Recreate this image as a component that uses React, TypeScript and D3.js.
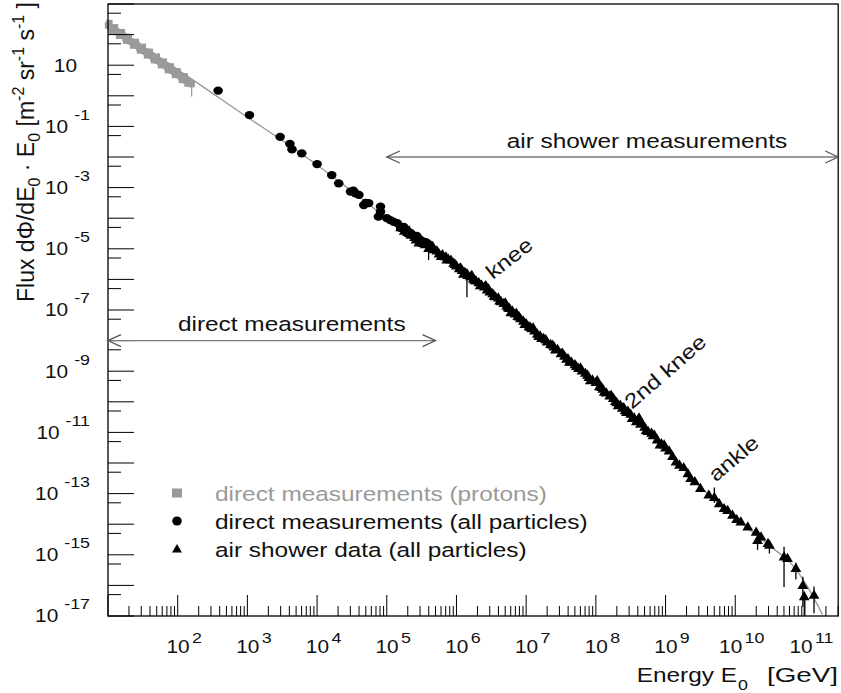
import React from "react";
import * as d3 from "d3";

const WIDTH = 841;
const HEIGHT = 693;
const PLOT = { left: 108, right: 838.2, top: 4, bottom: 616 };
const FONT = "'Liberation Sans', Arial, Helvetica, sans-serif";
const STRETCH = 1.19; // horizontal stretch of the typeface

// Cosmic-ray flux data as [log10(E0 / GeV), log10(flux)]
const protonData: [number, number][] = [
  [1.0, 2.3], [1.02, 2.38], [1.04, 2.22], [1.06, 2.12], [1.08, 2.18], [1.1, 2.24], [1.12, 2.1],
  [1.15, 2.08], [1.16, 1.96], [1.18, 2.0], [1.2, 2.08], [1.22, 1.96], [1.25, 1.88], [1.26, 1.8],
  [1.28, 1.86], [1.3, 1.92], [1.32, 1.78], [1.35, 1.75], [1.36, 1.64], [1.38, 1.68], [1.4, 1.76],
  [1.42, 1.64], [1.45, 1.56], [1.46, 1.48], [1.48, 1.54], [1.5, 1.6], [1.52, 1.46], [1.55, 1.43],
  [1.56, 1.32], [1.58, 1.36], [1.6, 1.44], [1.62, 1.32], [1.65, 1.24], [1.66, 1.16], [1.68, 1.22],
  [1.7, 1.28], [1.72, 1.14], [1.75, 1.11], [1.76, 1.0], [1.78, 1.04], [1.8, 1.12], [1.82, 0.99],
  [1.85, 0.93], [1.86, 0.84], [1.88, 0.9], [1.9, 0.96], [1.92, 0.82], [1.95, 0.79], [1.96, 0.68],
  [1.98, 0.72], [2.0, 0.8], [2.02, 0.67], [2.05, 0.61], [2.06, 0.52], [2.08, 0.58], [2.1, 0.64],
  [2.12, 0.5], [2.14, 0.4], [2.15, 0.47], [2.18, 0.41], [2.2, 0.38],
];
// [log10 E0, log10 low, log10 high]
const protonErrors: [number, number, number][] = [[2.2, -0.02, 0.4]];

const directData: [number, number][] = [
  [2.58, 0.17], [3.03, -0.63], [3.47, -1.34], [3.61, -1.57], [3.64, -1.75], [3.78, -1.88],
  [4.0, -2.23], [4.21, -2.59], [4.31, -2.86], [4.48, -3.13], [4.52, -3.1], [4.55, -3.19],
  [4.6, -3.24], [4.67, -3.57], [4.7, -3.5], [4.74, -3.51], [4.88, -3.95], [4.91, -3.62],
  [4.91, -3.79], [5.0, -4.0], [5.05, -4.06], [5.1, -4.12], [5.15, -4.16], [5.2, -4.32],
  [5.24, -4.28], [5.27, -4.39], [5.3, -4.5], [5.34, -4.48], [5.38, -4.56], [5.43, -4.58],
  [5.46, -4.68], [5.48, -4.71], [5.52, -4.76], [5.56, -4.78], [5.6, -4.85],
];

const airShowerData: [number, number][] = [
  [5.2, -4.3], [5.25, -4.42], [5.3, -4.46], [5.32, -4.4], [5.35, -4.55], [5.4, -4.62], [5.42, -4.7],
  [5.46, -4.8], [5.48, -4.74], [5.52, -4.82], [5.55, -4.86], [5.58, -4.84], [5.6, -4.98], [5.62, -4.98],
  [5.66, -4.92], [5.68, -5.02], [5.72, -5.06], [5.75, -5.16], [5.78, -5.24], [5.8, -5.18], [5.85, -5.26],
  [5.86, -5.36], [5.88, -5.32], [5.92, -5.36], [5.96, -5.46], [5.98, -5.5], [6.0, -5.55], [6.04, -5.64],
  [6.06, -5.62], [6.08, -5.7], [6.1, -5.82], [6.12, -5.76], [6.15, -5.8], [6.16, -5.86], [6.2, -5.9],
  [6.22, -5.86], [6.24, -5.98], [6.26, -6.02], [6.28, -6.04], [6.32, -6.1], [6.34, -6.2], [6.36, -6.18],
  [6.4, -6.24], [6.42, -6.2], [6.44, -6.34], [6.46, -6.3], [6.48, -6.4], [6.52, -6.46], [6.54, -6.54],
  [6.56, -6.56], [6.6, -6.6], [6.62, -6.7], [6.64, -6.72], [6.68, -6.78], [6.7, -6.76], [6.72, -6.86],
  [6.74, -6.92], [6.76, -6.94], [6.78, -7.08], [6.8, -7.02], [6.84, -7.12], [6.86, -7.1], [6.88, -7.2],
  [6.9, -7.22], [6.92, -7.28], [6.96, -7.36], [6.98, -7.46], [7.0, -7.44], [7.04, -7.54], [7.06, -7.56],
  [7.08, -7.6], [7.1, -7.58], [7.12, -7.68], [7.16, -7.78], [7.18, -7.86], [7.2, -7.84], [7.22, -7.92],
  [7.25, -7.92], [7.28, -7.96], [7.3, -8.04], [7.35, -8.12], [7.38, -8.14], [7.4, -8.2], [7.42, -8.3],
  [7.45, -8.28], [7.5, -8.42], [7.52, -8.4], [7.55, -8.5], [7.58, -8.6], [7.6, -8.58], [7.62, -8.7],
  [7.65, -8.7], [7.7, -8.78], [7.72, -8.84], [7.75, -8.9], [7.78, -8.88], [7.8, -8.98], [7.85, -9.06],
  [7.88, -9.12], [7.9, -9.2], [7.92, -9.3], [7.95, -9.28], [8.0, -9.36], [8.02, -9.3], [8.05, -9.5],
  [8.08, -9.52], [8.1, -9.58], [8.12, -9.68], [8.15, -9.7], [8.2, -9.8], [8.22, -9.78], [8.25, -9.88],
  [8.28, -9.98], [8.3, -10.02], [8.32, -10.12], [8.35, -10.1], [8.38, -10.2], [8.4, -10.18],
  [8.42, -10.28], [8.44, -10.34], [8.46, -10.3], [8.5, -10.4], [8.52, -10.54], [8.55, -10.52],
  [8.58, -10.64], [8.6, -10.6], [8.62, -10.52], [8.64, -10.72], [8.66, -10.7], [8.7, -10.82],
  [8.72, -10.94], [8.75, -10.96], [8.8, -11.02], [8.82, -11.1], [8.84, -11.08], [8.88, -11.24],
  [8.92, -11.4], [8.94, -11.36], [8.98, -11.4], [9.0, -11.5], [9.05, -11.6], [9.1, -11.78],
  [9.15, -11.96], [9.2, -12.06], [9.26, -12.14], [9.32, -12.34], [9.36, -12.5], [9.42, -12.6],
  [9.5, -12.82], [9.62, -13.04], [9.7, -13.12], [9.77, -13.32], [9.84, -13.48], [9.89, -13.54],
  [9.96, -13.7], [10.02, -13.84], [10.08, -13.92], [10.18, -14.08], [10.3, -14.25], [10.32, -14.52],
  [10.37, -14.41], [10.47, -14.62], [10.49, -14.68], [10.7, -15.06], [10.75, -15.11], [10.87, -15.44],
  [10.97, -15.99], [10.99, -16.36], [11.13, -16.31],
];
const airShowerErrors: [number, number, number][] = [
  [5.6, -5.37, -4.9], [6.15, -6.58, -5.72], [9.7, -13.3, -12.8], [10.32, -14.84, -14.3],
  [10.49, -14.96, -14.52], [10.7, -16.05, -14.74], [10.87, -15.81, -15.26], [10.97, -16.7, -15.72],
  [10.99, -17.0, -16.2], [11.13, -16.91, -16.04],
];

// Model of the all-particle spectrum
const fitCurve: [number, number][] = [
  [1.0, 2.42], [1.5, 1.62], [2.0, 0.86], [2.5, 0.08], [3.0, -0.7], [3.5, -1.46], [4.0, -2.26],
  [4.5, -3.12], [5.0, -4.0], [5.5, -4.8], [6.0, -5.62], [6.6, -6.62], [7.0, -7.44], [7.45, -8.3],
  [8.0, -9.38], [8.5, -10.42], [9.0, -11.52], [9.5, -12.78], [10.0, -13.8], [10.5, -14.72],
  [10.8, -15.28], [11.0, -15.9], [11.25, -16.95],
];

const xLabelExponents = [2, 3, 4, 5, 6, 7, 8, 9, 10, 11];
const yLabelExponents = [1, -1, -3, -5, -7, -9, -11, -13, -15, -17];

const legendEntries = [
  { label: "direct measurements (protons)", symbol: "square", color: "#9a9a9a" },
  { label: "direct measurements (all particles)", symbol: "circle", color: "#000" },
  { label: "air shower data (all particles)", symbol: "triangle", color: "#000" },
];

// Energy ranges of the two measurement techniques: [log10 Emin, log10 Emax, log10 flux level]
const rangeArrows = [
  { label: "air shower measurements", from: 5, to: Math.log10(3e11), level: -2, textE: 6.72, textF: -1.69 },
  { label: "direct measurements", from: 1, to: Math.log10(5e5), level: -8, textE: 2.004, textF: -7.69 },
];

// Spectral features: [log10 E, log10 flux] at the start of the text baseline
const features = [
  { label: "knee", e: 6.52, f: -6.02, angle: -38 },
  { label: "2nd knee", e: 8.52, f: -10.26, angle: -41 },
  { label: "ankle", e: 9.72, f: -12.64, angle: -40 },
];

const p10 = (v: number) => Math.pow(10, v);

export default function App() {
  const x = d3.scaleLog().domain([10, 3e11]).range([PLOT.left, PLOT.right]);
  const y = d3.scaleLog().domain([1e-17, 1e3]).range([PLOT.bottom, PLOT.top]);
  const px = (le: number) => x(p10(le));
  const py = (lf: number) => y(p10(lf));

  const line = d3
    .line<[number, number]>()
    .x((d) => px(d[0]))
    .y((d) => py(d[1]))
    .curve(d3.curveMonotoneX);

  const xTicks = x.ticks(30).filter((v) => v >= 10 && v <= 3e11);
  const isDecade = (v: number) => Math.abs(Math.log10(v) - Math.round(Math.log10(v))) < 1e-9;

  const yMajor = d3.range(-17, 4).map((n) => p10(n));
  const yMinor = d3.range(-17, 3).map((n) => 5 * p10(n));

  const tri = (cx: number, cy: number, w = 5.4, h = 4.6) =>
    `M${cx},${cy - h - 0.8} L${cx + w},${cy + h - 0.8} L${cx - w},${cy + h - 0.8} Z`;

  const arrowHead = (tx: number, ty: number, dir: number) =>
    `M${tx - dir * 13},${ty - 6} L${tx},${ty} L${tx - dir * 13},${ty + 6}`;

  return (
    <svg
      width={WIDTH}
      height={HEIGHT}
      style={{ position: "absolute", left: 0, top: 0, background: "#fff" }}
      fontFamily={FONT}
    >
      <rect x={0} y={0} width={WIDTH} height={HEIGHT} fill="#fff" />

      {/* model curve */}
      <path d={line(fitCurve) || ""} fill="none" stroke="#9a9a9a" strokeWidth={1.4} />

      {/* error bars */}
      {protonErrors.map((d, i) => (
        <line key={`pe${i}`} x1={px(d[0])} x2={px(d[0])} y1={py(d[1])} y2={py(d[2])} stroke="#9a9a9a" strokeWidth={1.2} />
      ))}
      {airShowerErrors.map((d, i) => (
        <line key={`ae${i}`} x1={px(d[0])} x2={px(d[0])} y1={py(d[1])} y2={py(d[2])} stroke="#000" strokeWidth={1.3} />
      ))}

      {/* protons */}
      {protonData.map((d, i) => (
        <rect key={`p${i}`} x={px(d[0]) - 3.2} y={py(d[1]) - 3.2} width={6.4} height={6.4} fill="#9a9a9a" />
      ))}
      {/* direct, all particles */}
      {directData.map((d, i) => (
        <ellipse key={`d${i}`} cx={px(d[0])} cy={py(d[1])} rx={4.8} ry={4.1} fill="#000" />
      ))}
      {/* air showers */}
      {airShowerData.map((d, i) => (
        <path key={`a${i}`} d={tri(px(d[0]), py(d[1]))} fill="#000" />
      ))}

      {/* frame */}
      <rect
        x={PLOT.left}
        y={PLOT.top}
        width={PLOT.right - PLOT.left}
        height={PLOT.bottom - PLOT.top}
        fill="none"
        stroke="#000"
        strokeWidth={1.3}
      />

      {/* x ticks */}
      {xTicks.map((v, i) => (
        <line
          key={`xt${i}`}
          x1={x(v)}
          x2={x(v)}
          y1={PLOT.bottom}
          y2={PLOT.bottom - (isDecade(v) ? 21 : 10)}
          stroke="#000"
          strokeWidth={1}
        />
      ))}
      {/* y ticks */}
      {yMajor.map((v, i) => (
        <line key={`yM${i}`} x1={PLOT.left} x2={PLOT.left + 26} y1={y(v)} y2={y(v)} stroke="#000" strokeWidth={1} />
      ))}
      {yMinor.map((v, i) => (
        <line key={`ym${i}`} x1={PLOT.left} x2={PLOT.left + 13} y1={y(v)} y2={y(v)} stroke="#000" strokeWidth={1} />
      ))}

      {/* x tick labels */}
      {xLabelExponents.map((n) => (
        <text
          key={`xl${n}`}
          transform={`translate(${x(p10(n)) + 6.5},${652.7}) scale(${STRETCH},1)`}
          textAnchor="middle"
          fontSize={17.5}
          fill="#111"
        >
          <tspan>10</tspan>
          <tspan fontSize={15} dx={2} dy={-10}>
            {String(n)}
          </tspan>
        </text>
      ))}

      {/* y tick labels */}
      {yLabelExponents.map((n) =>
        n === 1 ? (
          <text
            key={`yl${n}`}
            transform={`translate(77,${y(p10(n)) + 6.3}) scale(${STRETCH},1)`}
            textAnchor="end"
            fontSize={17.5}
            fill="#111"
          >
            10
          </text>
        ) : (
          <text
            key={`yl${n}`}
            transform={`translate(90,${y(p10(n)) + 6.3}) scale(${STRETCH},1)`}
            textAnchor="end"
            fontSize={17.5}
            fill="#111"
          >
            <tspan>10</tspan>
            <tspan fontSize={15} dx={5} dy={-13}>
              {String(n)}
            </tspan>
          </text>
        )
      )}

      {/* axis titles */}
      <g fontSize={20.5} fill="#111">
        <text transform={`translate(636.7,682) scale(${STRETCH},1)`}>Energy E</text>
        <text transform={`translate(738,690) scale(${STRETCH},1)`} fontSize={15}>
          0
        </text>
        <text x={767} y={682} textLength={71} lengthAdjust="spacingAndGlyphs">
          [GeV]
        </text>
      </g>
      <text transform="translate(34,152) rotate(-90)" textAnchor="middle" fontSize={23} fill="#111">
        <tspan>Flux dΦ/dE</tspan>
        <tspan fontSize={16} dy={6}>0</tspan>
        <tspan dy={-6}>{" · E"}</tspan>
        <tspan fontSize={16} dy={6}>0</tspan>
        <tspan dy={-6}>{" [m"}</tspan>
        <tspan fontSize={16} dy={-10}>-2</tspan>
        <tspan dy={10}>{" sr"}</tspan>
        <tspan fontSize={16} dy={-10}>-1</tspan>
        <tspan dy={10}>{" s"}</tspan>
        <tspan fontSize={16} dy={-10}>-1</tspan>
        <tspan dy={10}>{" ]"}</tspan>
      </text>

      {/* measurement ranges */}
      {rangeArrows.map((a) => {
        const x1 = px(a.from);
        const x2 = px(a.to);
        const yy = py(a.level);
        return (
          <g key={a.label}>
            <line x1={x1} x2={x2} y1={yy} y2={yy} stroke="#7a7a7a" strokeWidth={1.3} />
            <path d={arrowHead(x1, yy, -1)} fill="none" stroke="#555" strokeWidth={1.3} />
            <path d={arrowHead(x2, yy, 1)} fill="none" stroke="#555" strokeWidth={1.3} />
            <text
              transform={`translate(${px(a.textE)},${py(a.textF)}) scale(${STRETCH},1)`}
              fontSize={20.5}
              fill="#111"
            >
              {a.label}
            </text>
          </g>
        );
      })}

      {/* spectral features */}
      {features.map((f) => (
        <text
          key={f.label}
          transform={`translate(${px(f.e)},${py(f.f)}) rotate(${f.angle}) scale(${STRETCH},1)`}
          fontSize={20.5}
          fill="#111"
        >
          {f.label}
        </text>
      ))}

      {/* legend */}
      {legendEntries.map((e, i) => {
        const cy = 493 + i * 28;
        const cx = 177;
        return (
          <g key={e.label}>
            {e.symbol === "square" && <rect x={cx - 5} y={cy - 4.5} width={10} height={9} fill={e.color} />}
            {e.symbol === "circle" && <ellipse cx={cx} cy={cy} rx={4.8} ry={4.5} fill={e.color} />}
            {e.symbol === "triangle" && <path d={tri(cx, cy, 5, 4.2)} fill={e.color} />}
            <text
              transform={`translate(215,${cy + 7.5}) scale(${STRETCH},1)`}
              fontSize={20.5}
              fill={i === 0 ? "#9a9a9a" : "#111"}
            >
              {e.label}
            </text>
          </g>
        );
      })}
    </svg>
  );
}
